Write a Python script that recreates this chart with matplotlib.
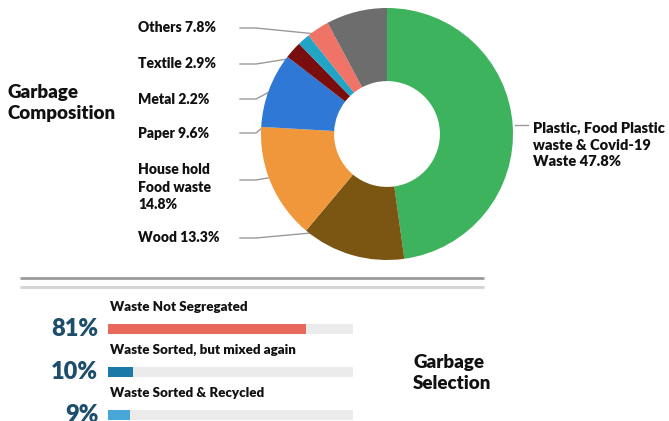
import numpy as np
import matplotlib
matplotlib.use("Agg")
import matplotlib.pyplot as plt

plt.rcParams['font.family'] = ['Lato', 'DejaVu Sans']

# garbage composition (clockwise from top)
comp_labels = ["Plastic, Food Plastic\nwaste & Covid-19\nWaste 47.8%", "Wood 13.3%",
               "House hold\nFood waste\n14.8%", "Paper 9.6%", "Metal 2.2%", "", "Textile 2.9%",
               "Others 7.8%"]
comp_values = [47.8, 13.3, 14.8, 9.6, 2.2, 1.6, 2.9, 7.8]
comp_colors = ["#3db35d", "#7b5512", "#f1973b", "#2f78d5", "#7a0d0d", "#22a4c6", "#ef7367", "#6d6d6d"]

# garbage selection
sel_labels = ["Waste Not Segregated", "Waste Sorted, but mixed again", "Waste Sorted & Recycled"]
sel_values = [81, 10, 9]
sel_colors = ["#e8685c", "#1b79a8", "#48a7d6"]

W, H = 669, 421
fig = plt.figure(figsize=(W / 100, H / 100), dpi=100)
TXT = '#111111'
WT = 'heavy'

def fx(px):
    return px / W

def fy(py):
    return 1 - py / H

# overlay in pixel coords (y down)
ov = fig.add_axes([0, 0, 1, 1])
ov.set_xlim(0, W)
ov.set_ylim(H, 0)
ov.axis('off')

# donut
cx, cy, R = 387, 134, 126
pad = 130
ax = fig.add_axes([fx(cx - pad), fy(cy + pad), 2 * pad / W, 2 * pad / H])
wedges, _ = ax.pie(comp_values, colors=comp_colors, startangle=90, counterclock=False,
                   wedgeprops=dict(width=0.58, edgecolor='none'))
ax.set_xlim(-pad / R, pad / R)
ax.set_ylim(-pad / R, pad / R)
ax.set_aspect('auto')
ax.axis('off')

def to_px(x, y):
    return cx + x * R, cy - y * R

# left labels: text y position in px
left_y = {"Wood 13.3%": 238, "House hold\nFood waste\n14.8%": 187, "Paper 9.6%": 133,
          "Metal 2.2%": 99, "Textile 2.9%": 64, "Others 7.8%": 28}
for w, lab in zip(wedges, comp_labels):
    if lab == "":
        continue
    th = np.deg2rad((w.theta1 + w.theta2) / 2)
    r = 0.78
    px, py = to_px(r * np.cos(th), r * np.sin(th))
    ov.plot(px, py, 'o', ms=2, color='#dddddd', mec='none')
    if lab.startswith("Plastic"):
        ov.plot([515, 528], [125, 125], color='#999999', lw=1)
        ov.text(533, 145, lab, ha='left', va='center', fontsize=10.5, fontweight=WT,
                color=TXT, linespacing=1.35)
        continue
    ly = left_y[lab]
    ly_line = ly if "\n" not in lab else 180
    ov.plot([240, 256, px], [ly_line, ly_line, py], color='#9a9a9a', lw=1)
    ov.text(138, ly, lab, ha='left', va='center', fontsize=10, fontweight=WT,
            color=TXT, linespacing=1.45)

ov.text(8, 103, "Garbage\nComposition", ha='left', va='center', fontsize=13.5,
        fontweight=WT, color=TXT, linespacing=1.3)

# separator lines
ov.plot([20, 484], [278, 278], color='#9c9c9c', lw=2, solid_capstyle='butt')
ov.plot([20, 484], [287, 287], color='#d2d2d2', lw=2, solid_capstyle='butt')

ov.text(413, 373, "Garbage\nSelection", ha='left', va='center', fontsize=13.5,
        fontweight=WT, color=TXT, linespacing=1.3)

# bars
x0, x1 = 108, 353
top, bot = 300, 421
step = 43
bx = fig.add_axes([fx(x0), fy(bot), (x1 - x0) / W, (bot - top) / H])
pos = np.arange(len(sel_values))
bx.barh(pos, [100] * len(pos), height=0.21, color='#ebebeb')
bx.barh(pos, sel_values, height=0.21, color=sel_colors)
bx.set_xlim(0, 100)
bx.set_ylim(2 + (bot - 415) / step, -(329 - top) / step)
bx.axis('off')
for i, (lab, v) in enumerate(zip(sel_labels, sel_values)):
    bx.text(0.8, i - 0.52, lab, ha='left', va='center', fontsize=9.6, fontweight=WT,
            color=TXT, clip_on=False)
    bx.text(-4, i, f"{v}%", ha='right', va='center', fontsize=17, fontweight=WT,
            color='#1d4e6b', clip_on=False)

fig.savefig("out.png", dpi=100)
